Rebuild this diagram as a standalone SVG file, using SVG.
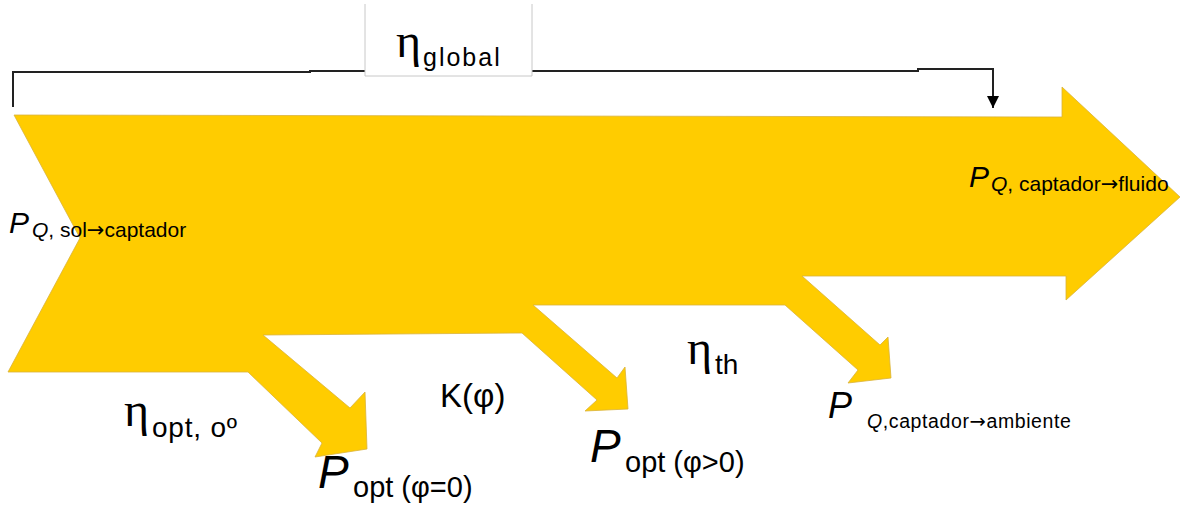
<svg xmlns="http://www.w3.org/2000/svg" width="1181" height="506" viewBox="0 0 1181 506">
<style>
  text { font-family: "Liberation Sans", Arial, sans-serif; fill: #000; }
  .it { font-style: italic; }
  .eta { font-family: "Liberation Serif", "Times New Roman", serif; font-size: 48px; }
  .arr { font-family: "DejaVu Sans", sans-serif; }
  .flow { fill: #FFCC00; stroke: #D9B23A; stroke-width: 0.8; stroke-linejoin: miter; }
  .wire { fill: none; stroke: #222; stroke-width: 2; }
</style>
<defs>
  <marker id="ah" viewBox="0 0 10 10" refX="10" refY="5" markerWidth="13" markerHeight="12" markerUnits="userSpaceOnUse" orient="auto">
    <path d="M0,0 L10,5 L0,10 Z" fill="#000"/>
  </marker>
</defs>
<rect width="1181" height="506" fill="#fff"/>

<g id="flow-arrow">
  <path class="flow" d="M14,115 L1062,117 L1062,87 L1180,197 L1066,300 L1066,276 L802,276 L880,345 L888,337 L891,378 L848,383 L858,370 L785,305 L533,305 L617,378 L625,367 L628,409 L585,411 L597,400 L522,333 L263,335 L350,408 L365,392 L367,449 L315,457 L322,443 L248,372 L8,372 L80,238 Z"/>
</g>

<g id="connectors">
  <polyline class="wire" points="13,107 13,72 310,72 310,71 365,71"/>
  <polyline class="wire" points="532,71 918,71 918,69 993,69 993,108" marker-end="url(#ah)"/>
</g>

<g id="eta-global">
  <rect x="365" y="4" width="167" height="72" fill="#fff"/>
  <path d="M365,4 V76 H532 V4" fill="none" stroke="#c8c8c8" stroke-width="1"/>
  <text x="396" y="57" class="eta">η</text>
  <text x="423" y="66" font-size="25" letter-spacing="2">global</text>
</g>

<g id="p-sol">
  <text x="9" y="233" font-size="30" class="it">P</text>
  <text x="32" y="237" font-size="21"><tspan class="it">Q</tspan>, sol<tspan class="arr">→</tspan>captador</text>
</g>

<g id="p-fluido">
  <text x="969" y="187" font-size="30" class="it">P</text>
  <text x="991" y="191" font-size="21"><tspan class="it">Q</tspan>, captador<tspan class="arr">→</tspan>fluido</text>
</g>

<g id="eta-opt">
  <text x="124" y="426" class="eta">η</text>
  <text x="152" y="437" font-size="28" letter-spacing="0.8">opt, oº</text>
</g>

<g id="k-phi">
  <text x="440" y="407" font-size="33">K(φ)</text>
</g>

<g id="eta-th">
  <text x="687" y="364" class="eta">η</text>
  <text x="715" y="374" font-size="28">th</text>
</g>

<g id="p-opt0">
  <text x="318" y="488" font-size="46" class="it">P</text>
  <text x="353" y="497" font-size="29">opt (φ=0)</text>
</g>

<g id="p-opt1">
  <text x="590" y="462" font-size="46" class="it">P</text>
  <text x="625" y="472" font-size="29">opt (φ&gt;0)</text>
</g>

<g id="p-ambiente">
  <text x="828" y="418" font-size="36" class="it">P</text>
  <text x="867" y="428" font-size="19.5" letter-spacing="0.6"><tspan class="it">Q</tspan>,captador<tspan class="arr">→</tspan>ambiente</text>
</g>
</svg>
